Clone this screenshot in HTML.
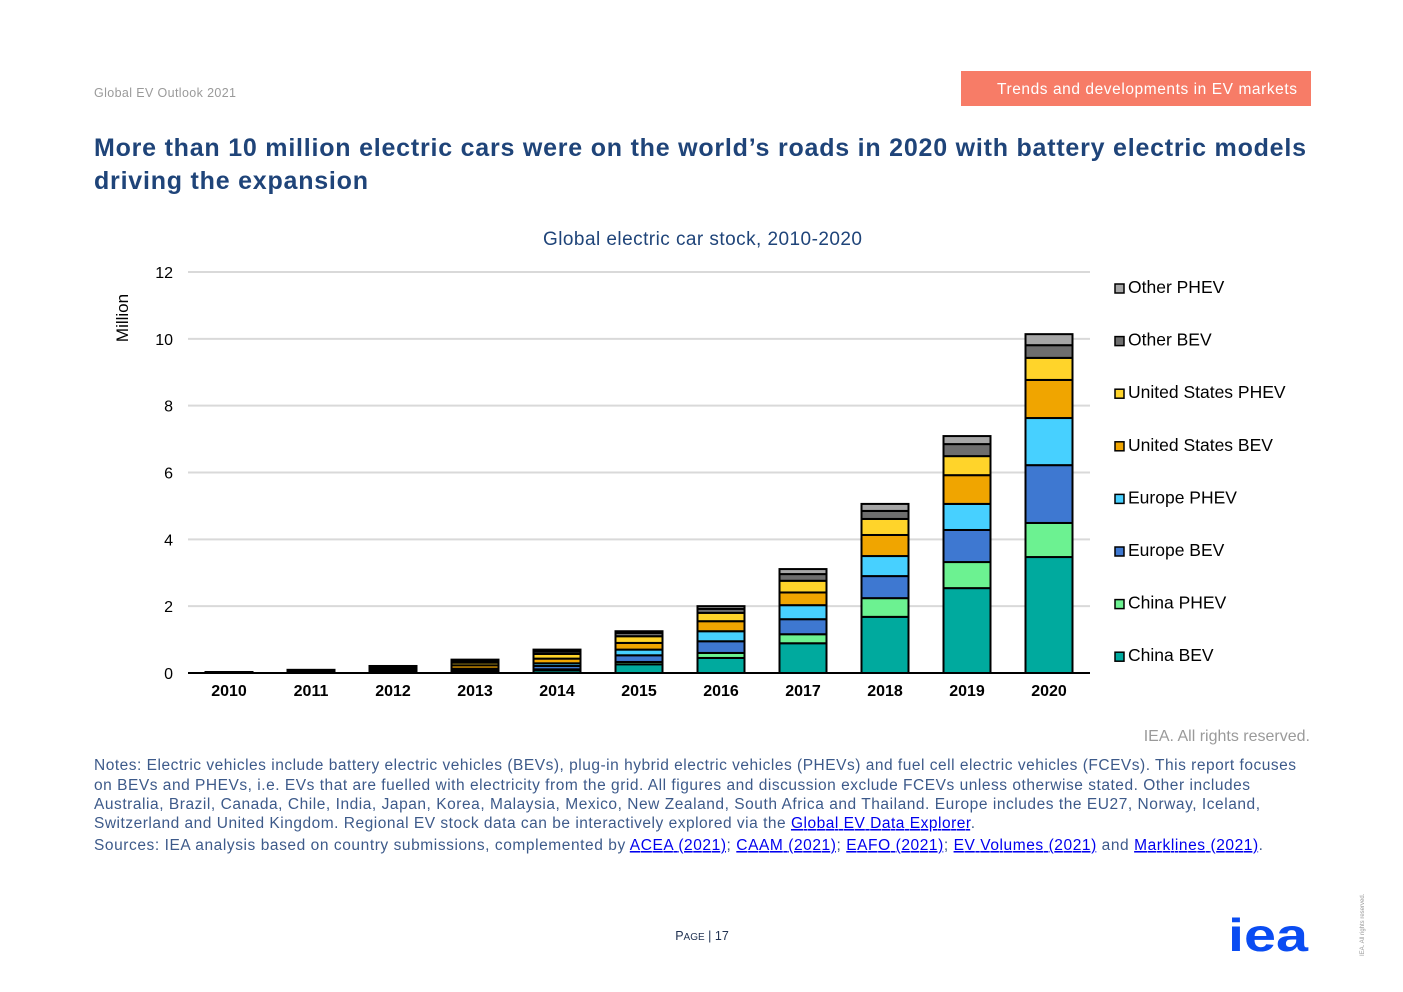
<!DOCTYPE html>
<html><head><meta charset="utf-8"><style>
html,body{margin:0;padding:0;background:#fff;}
svg{display:block;font-family:"Liberation Sans",Arial,sans-serif;}
a{cursor:pointer}
</style></head><body>
<svg id="page" width="1403" height="992" viewBox="0 0 1403 992" xmlns="http://www.w3.org/2000/svg">
<text x="94" y="97" font-size="12.5" fill="#9a9a9a" textLength="142" lengthAdjust="spacing">Global EV Outlook 2021</text>
<rect x="961" y="71" width="350" height="35" fill="#f77c67"/>
<text x="997" y="94" font-size="15.5" fill="#fff" textLength="300" lengthAdjust="spacing">Trends and developments in EV markets</text>
<text x="94" y="156" font-size="25" font-weight="bold" fill="#1f4479" textLength="1212" lengthAdjust="spacing">More than 10 million electric cars were on the world’s roads in 2020 with battery electric models</text>
<text x="94" y="189" font-size="25" font-weight="bold" fill="#1f4479" textLength="274" lengthAdjust="spacing">driving the expansion</text>
<text x="543" y="245" font-size="19" fill="#1f4479" textLength="319" lengthAdjust="spacing">Global electric car stock, 2010-2020</text>
<text transform="translate(128,318) rotate(-90)" font-size="17" fill="#000" text-anchor="middle">Million</text>
<g id="chart"></g>
<g id="legend"></g>
<text x="1310" y="741" font-size="16" fill="#9a9a9a" text-anchor="end">IEA. All rights reserved.</text>
<g font-size="15.5" fill="#3d5a8a">
<text x="94" y="770" textLength="1202" lengthAdjust="spacing">Notes: Electric vehicles include battery electric vehicles (BEVs), plug-in hybrid electric vehicles (PHEVs) and fuel cell electric vehicles (FCEVs). This report focuses</text>
<text x="94" y="790" textLength="1156" lengthAdjust="spacing">on BEVs and PHEVs, i.e. EVs that are fuelled with electricity from the grid. All figures and discussion exclude FCEVs unless otherwise stated. Other includes</text>
<text x="94" y="809" textLength="1166" lengthAdjust="spacing">Australia, Brazil, Canada, Chile, India, Japan, Korea, Malaysia, Mexico, New Zealand, South Africa and Thailand. Europe includes the EU27, Norway, Iceland,</text>
<text x="94" y="828" textLength="881" lengthAdjust="spacing">Switzerland and United Kingdom. Regional EV stock data can be interactively explored via the <tspan fill="#0000ee" text-decoration="underline">Global EV Data Explorer</tspan>.</text>
<text x="94" y="850" textLength="1169" lengthAdjust="spacing">Sources: IEA analysis based on country submissions, complemented by <tspan fill="#0000ee" text-decoration="underline">ACEA (2021)</tspan>; <tspan fill="#0000ee" text-decoration="underline">CAAM (2021)</tspan>; <tspan fill="#0000ee" text-decoration="underline">EAFO (2021)</tspan>; <tspan fill="#0000ee" text-decoration="underline">EV Volumes (2021)</tspan> and <tspan fill="#0000ee" text-decoration="underline">Marklines (2021)</tspan>.</text>
</g>
<text x="702" y="940" font-size="12.5" fill="#1f3050" text-anchor="middle">P<tspan font-size="10">AGE</tspan> | 17</text>
<text x="1228" y="951" font-size="46" font-weight="bold" fill="#0a4cf2" textLength="80" lengthAdjust="spacingAndGlyphs">iea</text>
<text transform="translate(1364,956) rotate(-90)" font-size="6" fill="#999">IEA. All rights reserved.</text>
</svg>
<script>
const years = ['2010','2011','2012','2013','2014','2015','2016','2017','2018','2019','2020'];
const seriesNames = ['China BEV','China PHEV','Europe BEV','Europe PHEV','United States BEV','United States PHEV','Other BEV','Other PHEV'];
const chinaBEV   = [0.005,0.01,0.015,0.03,0.08,0.26,0.45,0.89,1.68,2.54,3.47];
const chinaPHEV  = [0,0,0.005,0.01,0.03,0.07,0.15,0.27,0.56,0.78,1.02];
const europeBEV  = [0.005,0.01,0.03,0.05,0.10,0.20,0.35,0.45,0.66,0.96,1.73];
const europePHEV = [0,0.005,0.02,0.04,0.08,0.17,0.30,0.42,0.60,0.78,1.41];
const usBEV      = [0.005,0.02,0.05,0.10,0.14,0.20,0.30,0.38,0.63,0.86,1.14];
const usPHEV     = [0,0.02,0.05,0.08,0.14,0.20,0.25,0.35,0.48,0.57,0.66];
const otherBEV   = [0.01,0.02,0.02,0.05,0.07,0.10,0.12,0.20,0.24,0.36,0.38];
const otherPHEV  = [0.005,0.01,0.02,0.04,0.06,0.05,0.08,0.15,0.21,0.24,0.33];
const yTicks = [0,2,4,6,8,10,12];
const series = [chinaBEV,chinaPHEV,europeBEV,europePHEV,usBEV,usPHEV,otherBEV,otherPHEV];
const colors = ['#00aa9e','#6cf291','#3e78d1','#47d0ff','#f0a500','#ffd42a','#6e6e6e','#a6a6a6'];
const NS='http://www.w3.org/2000/svg';
const chart=document.getElementById('chart');
const legend=document.getElementById('legend');
const x0=188,x1=1090,y0=673,y1=272,yMax=12;
const yScale=v=>y0-(v/yMax)*(y0-y1);
const band=(x1-x0)/years.length;
const xCenter=i=>x0+band*(i+0.5);
const barW=47;
function mk(tag,attrs,parent){const e=document.createElementNS(NS,tag);for(const k in attrs)e.setAttribute(k,attrs[k]);parent.appendChild(e);return e;}
yTicks.forEach(t=>{
  if(t>0){const g=mk('line',{x1:x0,x2:x1,y1:yScale(t),y2:yScale(t),stroke:'#d9d9d9','stroke-width':2},chart);
  
  }
  const tl=mk('text',{x:173,y:yScale(t)+6,'font-size':16,'text-anchor':'end',fill:'#000'},chart);
  tl.textContent=t;
  
  
});
years.forEach((yr,i)=>{
  let acc=0;
  series.forEach((s,k)=>{
    const v=s[i];
    const r=mk('rect',{x:xCenter(i)-barW/2,y:yScale(acc+v),width:barW,height:Math.max(yScale(acc)-yScale(acc+v),0),fill:colors[k],stroke:'#000','stroke-width':2},chart);
    
    
    acc+=v;
  });
  const xl=mk('text',{x:xCenter(i),y:696,'font-size':16,'font-weight':'bold','text-anchor':'middle',fill:'#000'},chart);
  xl.textContent=yr;
  
  
});
const ax=mk('line',{x1:x0,x2:x1,y1:y0,y2:y0,stroke:'#000','stroke-width':2},chart);


for(let k=seriesNames.length-1;k>=0;k--){
  const idx=seriesNames.length-1-k;
  const y=287+idx*52.6;
  const g=mk('g',{},legend);
  
  
  mk('rect',{x:1115,y:y-3,width:9,height:9,fill:colors[k],stroke:'#000','stroke-width':1.5},g);
  const t=mk('text',{x:1128,y:y+6,'font-size':17.5,fill:'#000'},g);
  t.textContent=seriesNames[k];
}
</script>
</body></html>
